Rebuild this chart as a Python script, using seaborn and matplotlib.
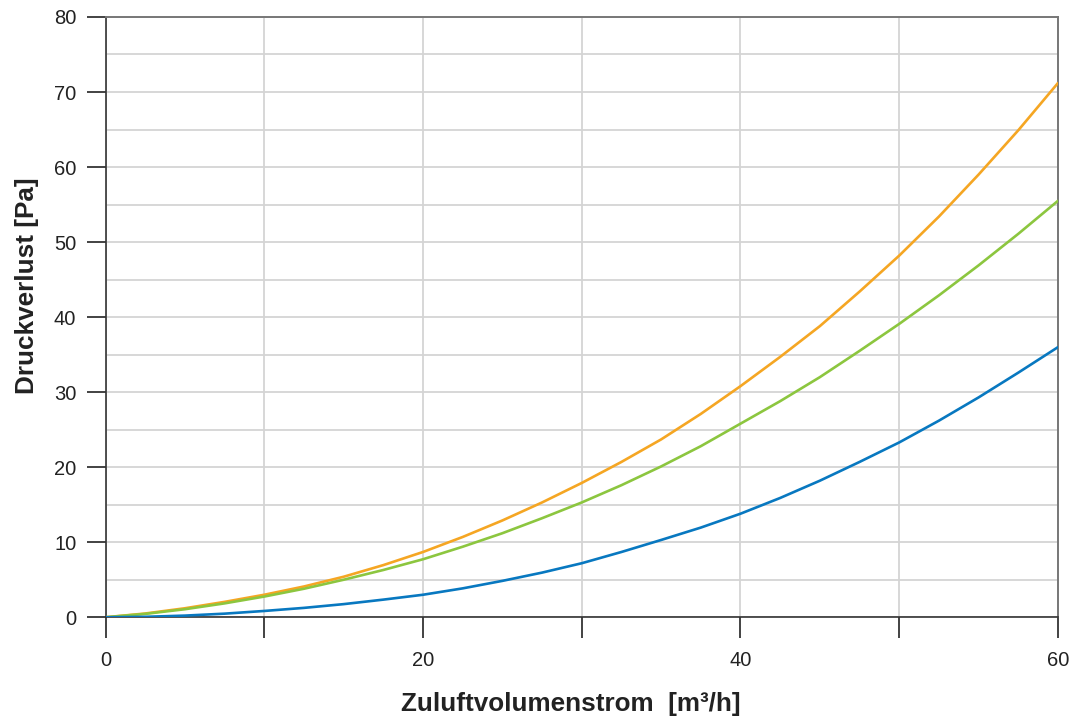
import numpy as np
import pandas as pd
import matplotlib
matplotlib.use("Agg")
import matplotlib.pyplot as plt
from matplotlib.ticker import MultipleLocator
import seaborn as sns

# Volumenstrom [m3/h]
flow = [0, 2.5, 5, 7.5, 10, 12.5, 15, 17.5, 20, 22.5, 25, 27.5, 30,
        32.5, 35, 37.5, 40, 42.5, 45, 47.5, 50, 52.5, 55, 57.5, 60]

# Druckverlust [Pa]
orange = [0, 0.5, 1.2, 2.05, 3.0, 4.1, 5.4, 6.95, 8.7, 10.7, 12.9, 15.3, 17.9,
          20.7, 23.7, 27.1, 30.8, 34.7, 38.8, 43.4, 48.2, 53.4, 59.0, 64.9, 71.2]
green = [0, 0.45, 1.07, 1.85, 2.76, 3.8, 5.0, 6.3, 7.73, 9.4, 11.2, 13.2, 15.3,
         17.6, 20.1, 22.8, 25.8, 28.8, 32.0, 35.5, 39.1, 42.9, 46.9, 51.1, 55.5]
blue = [0, 0.06, 0.22, 0.48, 0.84, 1.25, 1.75, 2.35, 3.0, 3.85, 4.85, 5.95, 7.2,
        8.7, 10.3, 11.95, 13.8, 15.9, 18.2, 20.7, 23.3, 26.2, 29.3, 32.6, 36.0]

x_ticks = [0, 10, 20, 30, 40, 50, 60]
x_ticklabels = ["0", "", "20", "", "40", "", "60"]
y_ticks = [0, 10, 20, 30, 40, 50, 60, 70, 80]

df = pd.DataFrame({
    "flow": flow * 3,
    "dp": orange + green + blue,
    "series": ["orange"] * len(flow) + ["green"] * len(flow) + ["blue"] * len(flow),
})
palette = {"orange": "#F5A623", "green": "#8CC63F", "blue": "#0878C0"}

sns.set_theme(style="white")
plt.rcParams["font.family"] = ["Liberation Sans", "DejaVu Sans"]

fig = plt.figure(figsize=(10.69, 7.19), dpi=100)
ax = fig.add_axes([0.0987, 0.1415, 0.8910, 0.8349])

sns.lineplot(data=df, x="flow", y="dp", hue="series", palette=palette,
             linewidth=1.9, legend=False, ax=ax, zorder=3)

ax.set_xlim(0, 60)
ax.set_ylim(0, 80)
ax.set_xticks(x_ticks)
ax.set_xticklabels(x_ticklabels)
ax.set_yticks(y_ticks)
ax.yaxis.set_minor_locator(MultipleLocator(5))

ax.grid(True, which="major", color="#d4d4d4", linewidth=1.3)
ax.grid(True, which="minor", axis="y", color="#d4d4d4", linewidth=1.3)
ax.set_axisbelow(True)

ax.tick_params(axis="x", which="major", direction="out", length=15, width=1.2,
               color="#222222", labelsize=14.5, labelcolor="#222222", pad=9, bottom=True)
ax.tick_params(axis="y", which="major", direction="out", length=14, width=1.2,
               color="#222222", labelsize=14.5, labelcolor="#222222", pad=7, left=True)
ax.tick_params(axis="y", which="minor", length=0)

for side in ["left", "bottom"]:
    ax.spines[side].set_color("#333333")
    ax.spines[side].set_linewidth(1.2)
for side in ["top", "right"]:
    ax.spines[side].set_color("#777777")
    ax.spines[side].set_linewidth(1.4)

ax.set_xlabel("Zuluftvolumenstrom  [m³/h]", fontsize=18.8, fontweight="bold",
              color="#222222", labelpad=16)
ax.set_ylabel("Druckverlust [Pa]", fontsize=18.8, fontweight="bold",
              color="#222222", labelpad=11)
# labels sit a bit off-centre in the original
ax.xaxis.label.set_x(0.488)
ax.yaxis.label.set_y(0.552)

fig.savefig("out.png", dpi=100)
